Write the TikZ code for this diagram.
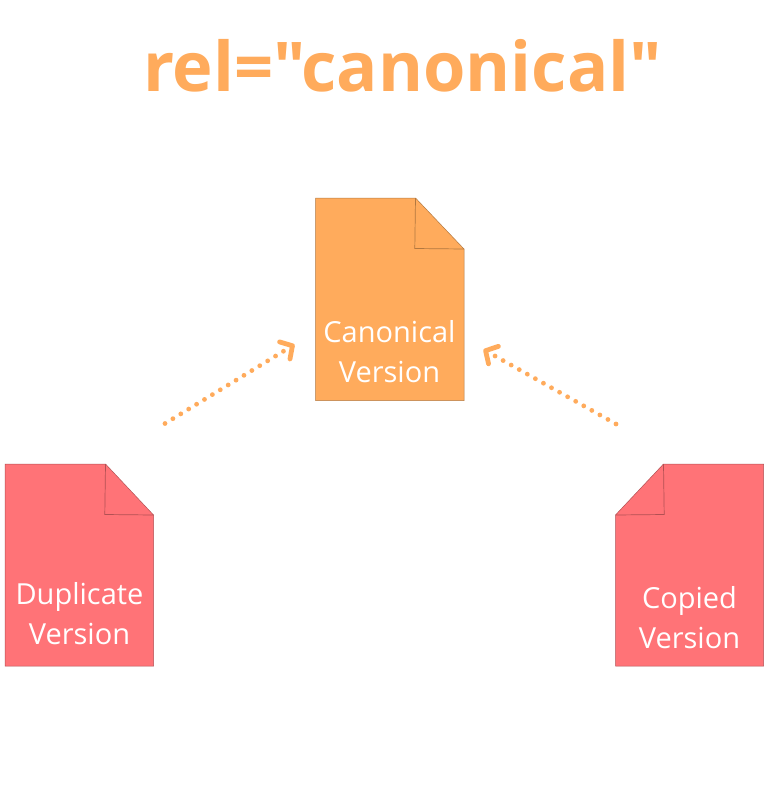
\documentclass[tikz,border=0pt]{standalone}
\usepackage{fontspec}
\setmainfont{Open Sans}
\newfontfamily\plainquotes{Open Sans}
\usetikzlibrary{arrows.meta}
\definecolor{orangedoc}{HTML}{FFAB5C}
\definecolor{reddoc}{HTML}{FF7377}
\tikzset{
  doc/.style={draw=black!30!#1,line width=0.5pt,fill=#1},
  fold/.style={draw=black!30!#1,line width=0.7pt},
  label/.style={text=white,font=\fontsize{29}{40.5}\selectfont,align=center,anchor=center,inner sep=0pt},
  link/.style={draw=orangedoc,line width=4.8pt,line cap=round,dash pattern=on 0pt off 9.25pt,
    -{Straight Barb[round,length=9pt,width=20pt,line width=4.8pt]}},
}
\begin{document}
\begin{tikzpicture}[x=1pt,y=-1pt]
\useasboundingbox (0,0) rectangle (768,812);
\fill[white] (0,0) rectangle (768,812);
\node[text=orangedoc,font=\plainquotes\fontsize{68.6}{80}\selectfont\bfseries,inner sep=0pt] (title) at (402.5,66) {rel="canonical"};
% canonical
\draw[doc=orangedoc] (315.5,198) -- (415.5,198) -- (464,249) -- (464,400.5) -- (315.5,400.5) -- cycle;
\draw[fold=orangedoc] (415.5,198) -- (414.8,248.5) -- (464,249);
\node[label] (canon) at (389.5,351.5) {Canonical\\Version};
% duplicate
\draw[doc=reddoc] (5,464) -- (105.5,464) -- (153.5,515) -- (153.5,666) -- (5,666) -- cycle;
\draw[fold=reddoc] (105.5,464) -- (104.8,514.5) -- (153.5,515);
\node[label] (dup) at (79.5,613.5) {Duplicate\\Version};
% copied
\draw[doc=reddoc] (663.5,464) -- (763.5,464) -- (763.5,666) -- (615.5,666) -- (615.5,515) -- cycle;
\draw[fold=reddoc] (663.5,464) -- (664.2,514.5) -- (615.5,515);
\node[label] (copy) at (689.5,617.5) {Copied\\Version};
% connectors
\coordinate (la) at (165,423.5);
\coordinate (lb) at (294.5,344.5);
\coordinate (ra) at (616,424);
\coordinate (rb) at (483.5,349.5);
\draw[link] (la) -- (lb);
\draw[link] (ra) -- (rb);
\end{tikzpicture}
\end{document}
